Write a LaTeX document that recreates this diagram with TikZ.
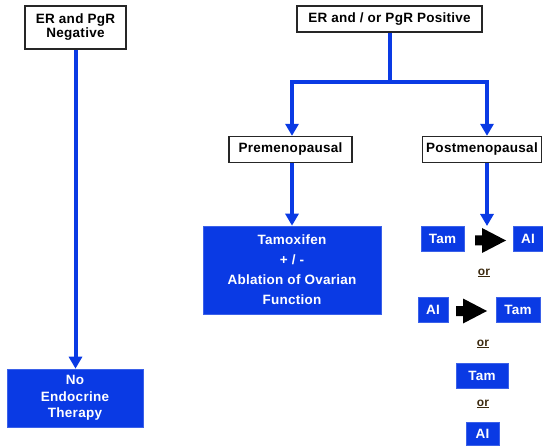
\documentclass[tikz,border=0pt]{standalone}
\usepackage{fontspec}
\setmainfont[LetterSpace=2]{Liberation Sans}
\usetikzlibrary{arrows.meta}
\definecolor{bblue}{RGB}{10,58,228}
\definecolor{orcol}{RGB}{60,42,15}
\begin{document}
\begin{tikzpicture}[x=1pt,y=-1pt,
  font=\bfseries\fontsize{13.5}{15}\selectfont,
  wbox/.style={draw=black!85,line width=1.3pt,fill=white,align=center,inner sep=0pt},
  bbox/.style={fill=bblue,draw=bblue!80!white,line width=0.6pt,text=white,align=center,inner sep=0pt},
  conn/.style={draw=bblue,line width=4pt},
  arr/.style={conn,-{Triangle[width=13pt,length=12pt]}},
  ortext/.style={text=orcol,font=\bfseries\fontsize{12}{13}\selectfont}]
\useasboundingbox (0,0) rectangle (543,446);
\node[wbox,minimum width=101pt,minimum height=43pt] (neg) at (75.5,27.5) {ER and PgR\\[-1pt]Negative};
\node[wbox,minimum width=185pt,minimum height=26pt] (pos) at (389.5,19) {ER and / or PgR Positive};
\node[wbox,minimum width=123pt,minimum height=26pt] (pre) at (290.5,149.5) {Premenopausal};
\node[wbox,minimum width=119pt,minimum height=26pt] (post) at (482,149.5) {Postmenopausal};
\node[bbox,minimum width=178pt,minimum height=88pt,font=\bfseries\fontsize{13.5}{20}\selectfont] (tamox) at (292,270) {Tamoxifen\\+ / -\\Ablation of Ovarian\\Function};
\node[bbox,minimum width=136pt,minimum height=58pt,font=\bfseries\fontsize{13.5}{16.5}\selectfont] (noendo) at (75,398) {No\\Endocrine\\Therapy};
\node[bbox,minimum width=43pt,minimum height=25pt] (tam1) at (442.5,238.5) {Tam};
\node[bbox,minimum width=30pt,minimum height=25pt] (ai1) at (528,238.5) {AI};
\coordinate (ar1) at (475,240.5);
\node[ortext] (or1) at (484,273) {\underline{or}};
\node[bbox,minimum width=30pt,minimum height=25pt] (ai2) at (433,309.5) {AI};
\coordinate (ar2) at (456,311);
\node[bbox,minimum width=44pt,minimum height=25pt] (tam2) at (518,309.5) {Tam};
\node[ortext] (or2) at (483,344) {\underline{or}};
\node[bbox,minimum width=52pt,minimum height=25pt] (tam3) at (482,375.5) {Tam};
\node[ortext] (or3) at (483,404) {\underline{or}};
\node[bbox,minimum width=33pt,minimum height=23pt] (ai4) at (482.5,433.5) {AI};
\foreach \a in {ar1,ar2}
  \fill[black] (\a) ++(0,-5) -- ++(7,0) -- ++(0,-7.5) -- ++(24,12.5) -- ++(-24,12.5) -- ++(0,-7.5) -- ++(-7,0) -- cycle;
\coordinate (jl) at (292,82);
\coordinate (jr) at (487,82);
\coordinate (jc) at (pos.south |- jl);
\coordinate (postend) at (487,226);
\draw[conn] (pos.south) -- (jc);
\draw[conn,line cap=rect] (jl) -- (jr);
\draw[arr] (jl) -- (jl |- pre.north);
\draw[arr] (jr) -- (jr |- post.north);
\draw[arr] (pre.south -| tamox.north) -- (tamox.north);
\draw[arr] (postend |- post.south) -- (postend);
\draw[arr] (neg.south) -- (neg.south |- noendo.north);
\end{tikzpicture}
\end{document}
